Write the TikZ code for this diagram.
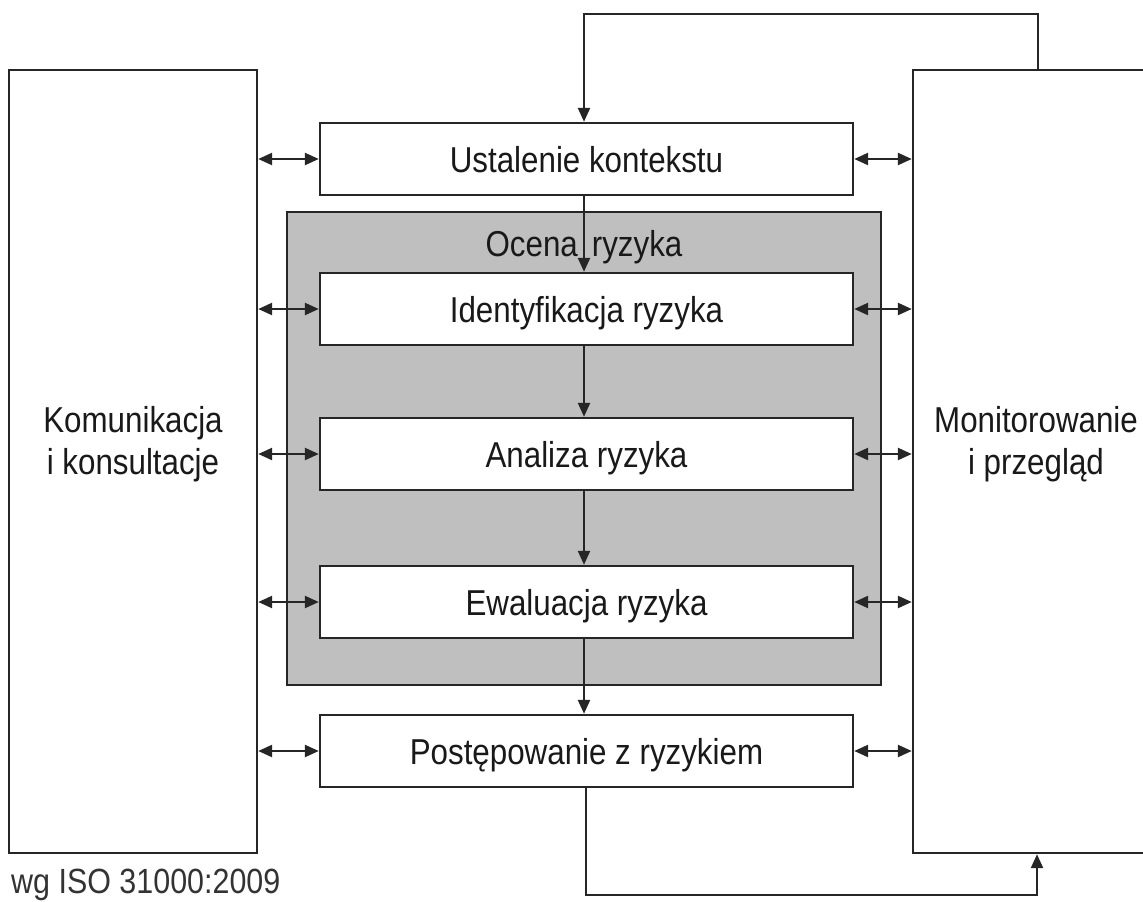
\documentclass[tikz,border=0pt]{standalone}
\usepackage{fontspec}
\setmainfont{Liberation Sans}[FakeStretch=0.87]
\usetikzlibrary{arrows.meta}
\begin{document}
\begin{tikzpicture}[x=1pt,y=-1pt,
  ln/.style={draw=black!85,line width=2.4pt},
  txt/.style={font=\fontsize{36}{42}\selectfont,text=black!90},
  stepbox/.style={ln,fill=white,minimum width=533pt,minimum height=72pt,inner sep=0pt,txt,text height=26pt,text depth=0pt},
  sidebox/.style={ln,fill=white,minimum height=783pt,inner sep=0pt},
  arr/.style={ln,-{Triangle[length=14pt,width=12pt]}},
  dbl/.style={ln,{Triangle[length=14pt,width=12pt]}-{Triangle[length=14pt,width=12pt]}}]
\useasboundingbox (0,0) rectangle (1143,902);
\clip (0,0) rectangle (1143,902);
% side boxes
\node[sidebox,minimum width=248pt] (kom) at (133,461.5) {};
\node[sidebox,minimum width=246pt] (mon) at (1036,461.5) {};
\node[txt,align=center] (komt) at (133,444) {Komunikacja\\i konsultacje};
\node[txt,align=center] (mont) at (1036,444) {Monitorowanie\\i przegląd};
% grey assessment box
\node[ln,fill=black!25,minimum width=594pt,minimum height=473pt,inner sep=0pt] (oc) at (584,448.5) {};
\node[txt,anchor=base] (oct) at (584,256) {Ocena\hspace{14pt}ryzyka};
% step boxes
\node[stepbox] (ust) at (586.5,159) {Ustalenie kontekstu};
\node[stepbox] (ide) at (586.5,309) {Identyfikacja ryzyka};
\node[stepbox] (ana) at (586.5,454) {Analiza ryzyka};
\node[stepbox] (ewa) at (586.5,602) {Ewaluacja ryzyka};
\node[stepbox] (pos) at (586.5,751) {Postępowanie z ryzykiem};
% vertical flow
\coordinate (ax) at (584,0);
\draw[arr] (ust.south -| ax) -- (ide.north -| ax);
\draw[arr] (ide.south -| ax) -- (ana.north -| ax);
\draw[arr] (ana.south -| ax) -- (ewa.north -| ax);
\draw[arr] (ewa.south -| ax) -- (pos.north -| ax);
% double arrows
\foreach \b in {ust,ide,ana,ewa,pos}{
  \draw[dbl] (kom.east |- \b) -- (\b.west);
  \draw[dbl] (\b.east) -- (mon.west |- \b);
}
% feedback loops
\coordinate (tr) at (1038,14);
\coordinate (tl) at (584,14);
\draw[arr] (mon.north -| tr) -- (tr) -- (tl) -- (ust.north -| tl);
\coordinate (bl) at (586,895);
\coordinate (br) at (1037,895);
\draw[arr] (pos.south -| bl) -- (bl) -- (br) -- (mon.south -| br);
% source note
\node[font=\fontsize{35}{40}\selectfont,text=black!80,anchor=base west,inner sep=0pt] (src) at (11,893) {wg ISO 31000:2009};
\end{tikzpicture}
\end{document}
